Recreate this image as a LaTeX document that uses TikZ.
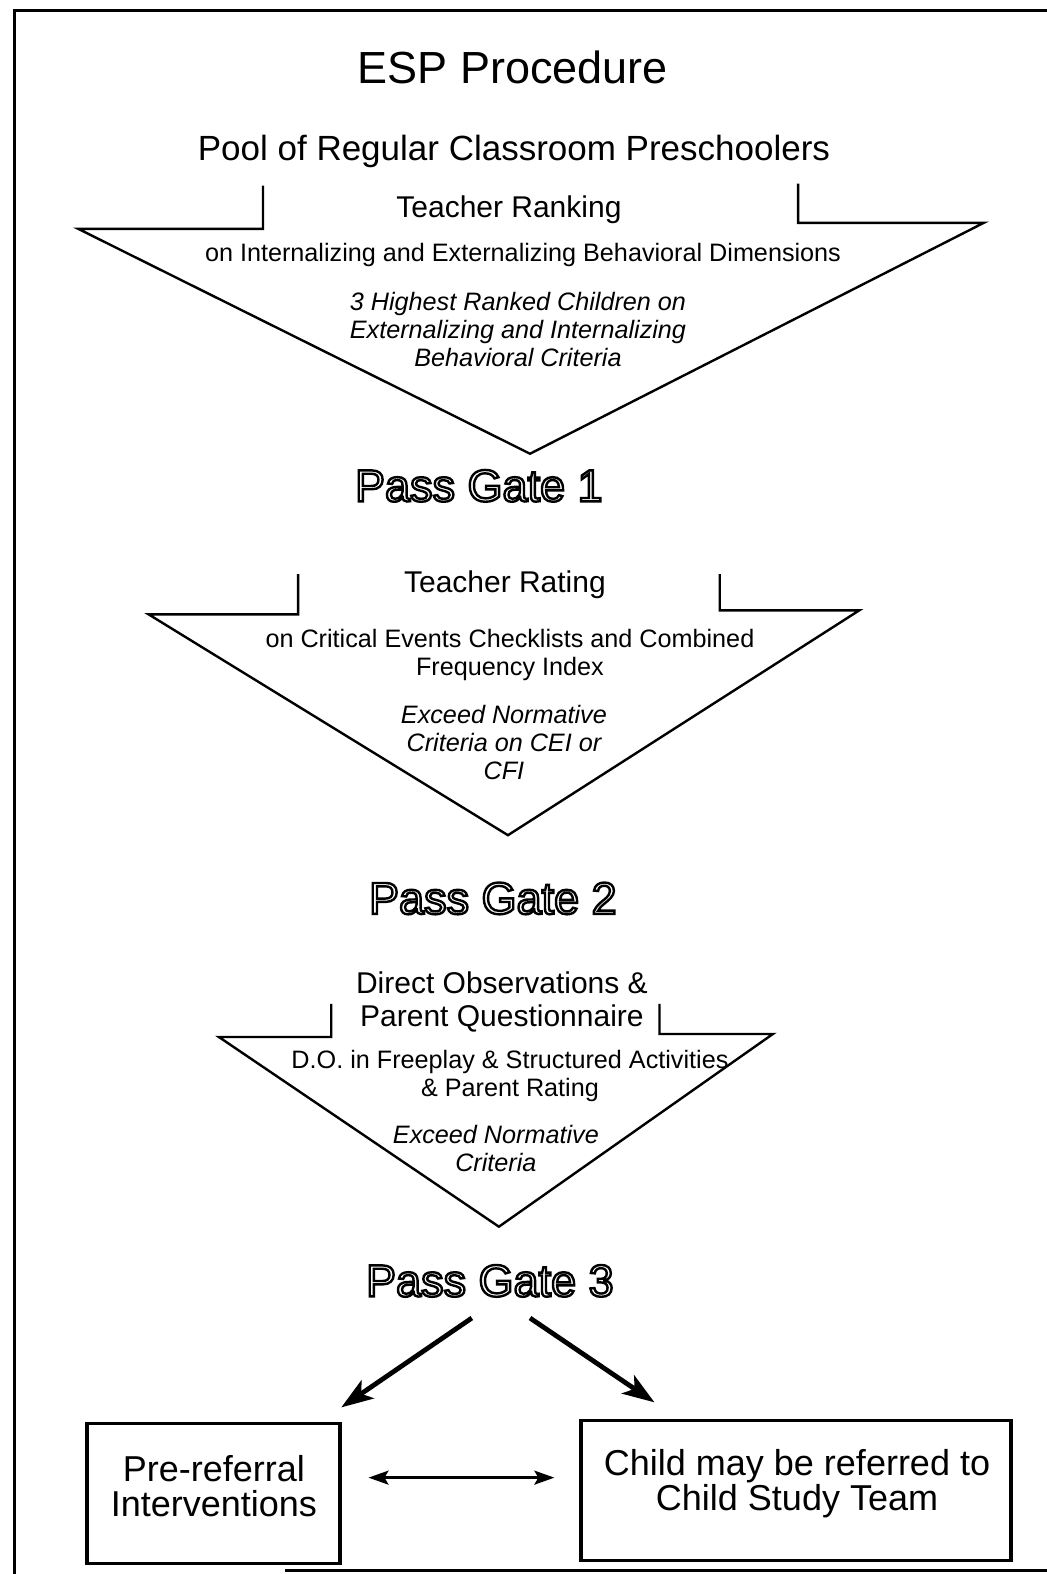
\documentclass[tikz,border=0pt]{standalone}
\usepackage{fontspec}
\setmainfont{Liberation Sans}
\usetikzlibrary{arrows.meta}
\newcommand{\fs}[2]{\fontsize{#1}{#2}\selectfont}
\newcommand{\outl}[1]{\special{pdf:literal direct 1 Tr 1.2 w}#1\special{pdf:literal direct 0 Tr}}
\begin{document}
\begin{tikzpicture}[x=0.50192pt,y=-0.50192pt,
  txt/.style={inner sep=0pt, align=center},
  title/.style={txt, font=\fs{22.5}{27}},
  pool/.style={txt, font=\fs{17.5}{21}},
  hd/.style={txt, font=\fs{15}{16.5}},
  sub/.style={txt, font=\fs{12.6}{14}},
  crit/.style={txt, font=\fs{12.6}{14}\itshape},
  gate/.style={txt, font=\fs{22.5}{27}},
  funnel/.style={draw, line width=1.2pt, line join=miter},
  outbox/.style={draw, line width=1.7pt, inner sep=0pt},
  boxtxt/.style={txt, font=\fs{18}{17.5}},
  bigarrow/.style={line width=2.4pt, -{Stealth[length=16pt,width=11pt,inset=4pt]}},
  dblarrow/.style={line width=1.2pt, {Stealth[length=10pt,width=7pt,inset=2pt]}-{Stealth[length=10pt,width=7pt,inset=2pt]}},
  frame/.style={line width=1.5pt}
]
\useasboundingbox (0,0) rectangle (1043,1568);
% page frame
\draw[frame] (1043,10) -- (14,10) -- (14,1568);
\draw[frame] (284,1564) -- (1043,1564);

% title
\node[title] (ttl) at (511,67) {ESP Procedure};
\node[pool] (pool) at (512,151) {Pool of Regular Classroom Preschoolers};

% funnel 1
\draw[funnel] (262,185) -- (262,228) -- (78,228) -- (528,452) -- (980,222) -- (795,222) -- (795,183);
\node[hd] (h1) at (507,209) {Teacher Ranking};
\node[sub] (s1) at (521,254) {on Internalizing and Externalizing Behavioral Dimensions};
\node[crit] (c1) at (516,328) {3 Highest Ranked Children on\\Externalizing and Internalizing\\Behavioral Criteria};
\node[gate] (g1) at (477,484) {\outl{Pass Gate 1}};

% funnel 2
\draw[funnel] (297,572) -- (297,612) -- (148,612) -- (506,832) -- (856,608) -- (717,608) -- (717,572);
\node[hd] (h2) at (503,583) {Teacher Rating};
\node[sub] (s2) at (508,652) {on Critical Events Checklists and Combined\\Frequency Index};
\node[crit] (c2) at (502,740) {Exceed Normative\\Criteria on CEI or\\CFI};
\node[gate] (g2) at (491,895) {\outl{Pass Gate 2}};

% funnel 3
\draw[funnel] (330,1000) -- (330,1033) -- (218,1033) -- (497,1222) -- (770,1030) -- (657,1030) -- (657,1000);
\node[hd] (h3) at (500,998) {Direct Observations \&\\Parent Questionnaire};
\node[sub] (s3) at (508,1072) {D.O. in Freeplay \& Structured Activities\\\& Parent Rating};
\node[crit] (c3) at (494,1144) {Exceed Normative\\Criteria};
\node[gate] (g3) at (488,1276) {\outl{Pass Gate 3}};

% outcome boxes
\node[outbox, minimum width=126.5pt, minimum height=70pt] (pre) at (212.5,1488) {};
\node[boxtxt] (pretxt) at (213,1480) {Pre-referral\\Interventions};
\node[outbox, minimum width=215pt, minimum height=70pt] (cst) at (793,1485) {};
\node[boxtxt] (csttxt) at (794,1478) {Child may be referred to\\Child Study Team};

% arrows
\coordinate (al) at (470,1313);
\coordinate (ar) at (528,1313);
\coordinate (el) at (340,1402);
\coordinate (er) at (652,1397);
\coordinate (dy) at (0,1472);
\draw[bigarrow] (al) -- (el);
\draw[bigarrow] (ar) -- (er);
\draw[dblarrow, shorten <=13.5pt, shorten >=12.5pt] (pre.east |- dy) -- (cst.west |- dy);
\end{tikzpicture}
\end{document}
